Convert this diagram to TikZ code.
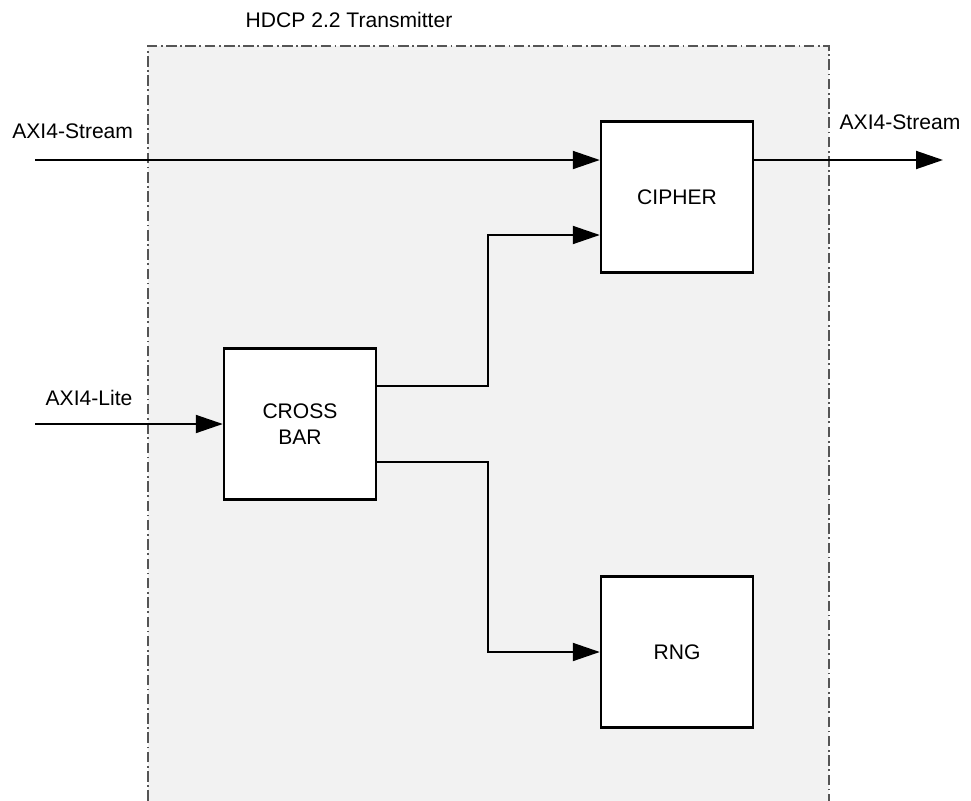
\documentclass[tikz,border=0pt]{standalone}
\usepackage{fontspec}
\setmainfont{Liberation Sans}
\usetikzlibrary{arrows.meta}
\definecolor{boxgray}{HTML}{F2F2F2}
\definecolor{framegray}{HTML}{555555}
\tikzset{
  block/.style={draw, line width=1.4pt, fill=white, minimum width=3.04cm,
    minimum height=3.02cm, inner sep=0pt, align=center},
  sig/.style={line width=1.1pt, -{Triangle[length=5.4mm, width=3.6mm]}},
  frame/.style={draw=framegray, line width=0.6pt, dash pattern=on 6pt off 2pt on 1pt off 2pt},
  lbl/.style={inner sep=0pt}
}
\begin{document}
\begin{tikzpicture}[x=0.02cm, y=-0.02cm, font=\fontsize{12}{14.5}\selectfont]
  \useasboundingbox (0,0) rectangle (971,801);
  % transmitter region
  \fill[boxgray] (148,46) rectangle (829,801);
  \draw[frame] (148,801) -- (148,46) -- (829,46) -- (829,801);
  \node[lbl] (title) at (349,20) {HDCP 2.2 Transmitter};
  % blocks
  \node[block] (cipher) at (677,197) {CIPHER};
  \node[block] (crossbar) at (300,424) {CROSS\\BAR};
  \node[block] (rng) at (677,652) {RNG};
  % free ends
  \coordinate (sin) at (35,160);
  \coordinate (sout) at (943,160);
  \coordinate (lin) at (35,424);
  \coordinate (jup) at (488,235);
  \coordinate (jdn) at (488,652);
  % labels
  \node[lbl, anchor=west] (sinlbl) at (12,131) {AXI4-Stream};
  \node[lbl] (soutlbl) at (900,122) {AXI4-Stream};
  \node[lbl] (linlbl) at (89,398) {AXI4-Lite};
  % connectors
  \draw[sig] (sin) -- ([yshift=0.74cm]cipher.west);
  \draw[sig] ([yshift=0.74cm]cipher.east) -- (sout);
  \draw[sig] (lin) -- (crossbar.west);
  \draw[sig] ([yshift=0.76cm]crossbar.east) -| (jup) -- (jup -| cipher.west);
  \draw[sig] ([yshift=-0.76cm]crossbar.east) -| (jdn) -- (rng.west);
\end{tikzpicture}
\end{document}
